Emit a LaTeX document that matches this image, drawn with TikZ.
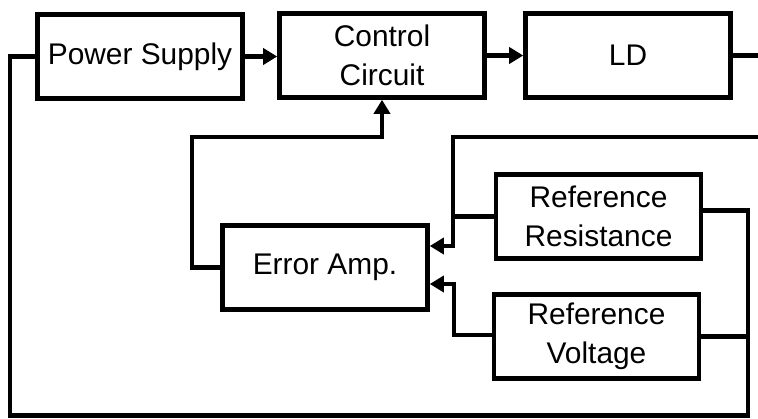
\documentclass[tikz,border=0pt]{standalone}
\usepackage{fontspec}
\setmainfont{Liberation Sans}
\usetikzlibrary{arrows.meta,calc}

\begin{document}
\begin{tikzpicture}[
    blockbox/.style={
      rectangle, draw=black, line width=2.6pt, minimum width=4.1cm,
      minimum height=1.68cm, inner sep=0pt, align=center,
      font=\fontsize{17}{22}\selectfont
    },
    wire/.style={line width=2.3pt, line join=miter},
    arr/.style={wire, -{Triangle[length=0.28cm,width=0.32cm]}},
]
\useasboundingbox (0,0) rectangle (15.16,8.36);

% ===== BLOCKS =====
\node[blockbox] (ps) at (2.80, 7.23) {Power Supply};
\node[blockbox] (cc) at (7.64, 7.25) {Control\\Circuit};
\node[blockbox] (ld) at (12.56, 7.25) {LD};
\node[blockbox] (ea) at (6.50, 3.01) {Error Amp.};
\node[blockbox] (rr) at (11.97, 4.03) {Reference\\Resistance};
\node[blockbox] (rv) at (11.93, 1.63) {Reference\\Voltage};

% ===== FREE ENDS AND JUNCTIONS =====
\coordinate (ldout) at (15.16, 7.25);
\coordinate (fbin) at (15.16, 5.62);
\coordinate (jleft) at (9.06, 4.00);
\coordinate (jright) at (14.96, 4.15);
\coordinate (corner) at (0.20, 0.05);

% ===== MAIN PATH =====
\draw[arr] (ps.east) -- (ps.east -| cc.west);
\draw[arr] (cc.east) -- (ld.west);
\draw[wire] (ld.east) -- (ldout);

% ===== ERROR AMP OUTPUT =====
\draw[arr] (ea.west) -| (3.84, 5.62) -| (cc.south);

% ===== INPUTS TO ERROR AMP =====
\draw[arr] (fbin) -| (jleft) |- ([yshift=0.43cm]ea.east);
\draw[wire] (rr.west) -- (rr.west -| jleft);
\draw[arr] ([yshift=0.03cm]rv.west) -| (9.08, 2.68) -- ([yshift=-0.33cm]ea.east);

% ===== RETURN LOOP =====
\draw[wire] ([yshift=0.12cm]rr.east) -| (jright |- corner) -| (corner |- ps.west) -- (ps.west);
\draw[wire] (rv.east) -- (rv.east -| jright);

\end{tikzpicture}
\end{document}
